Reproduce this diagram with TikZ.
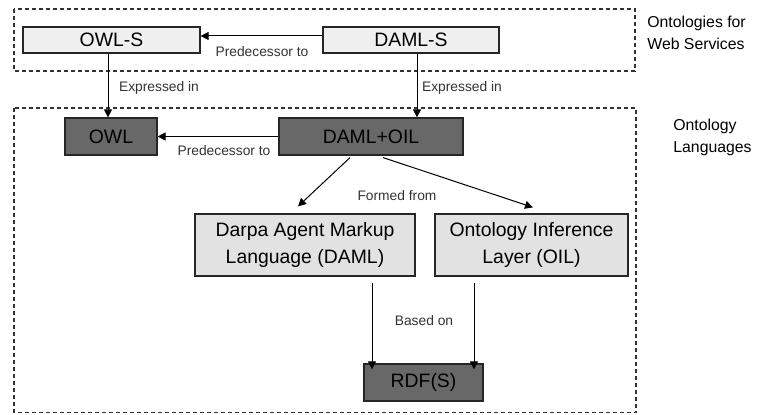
\documentclass[tikz,border=0pt]{standalone}
\usepackage{fontspec}
\setmainfont{Liberation Sans}
\usepackage{tikz}
\usetikzlibrary{arrows.meta}

\definecolor{boxlight}{HTML}{F0F0F0}
\definecolor{boxmid}{HTML}{E2E2E2}
\definecolor{boxdark}{HTML}{686868}

\begin{document}
\begin{tikzpicture}[x=0.5pt, y=-0.5pt,
    box/.style={draw=black!85, line width=0.6pt, inner sep=0pt, align=center,
      font=\fontsize{9.7}{13.5}\selectfont},
    lightbox/.style={box, fill=boxlight, minimum height=13pt},
    midbox/.style={box, fill=boxmid, minimum height=31pt},
    darkbox/.style={box, fill=boxdark, minimum height=18.5pt},
    lbl/.style={font=\fontsize{6.9}{8}\selectfont, text=black!80, inner sep=0pt},
    side/.style={font=\fontsize{7.9}{10.8}\selectfont, align=left, inner sep=0pt, anchor=north west},
    frame/.style={dashed, dash pattern=on 2pt off 1.5pt, line width=0.6pt, draw=black!80},
    arr/.style={line width=0.5pt, -{Triangle[length=4pt, width=4pt]}}]
      \useasboundingbox (0,0) rectangle (771,415);
      \def\topy{40}
      \def\midy{136.5}
      \def\lowy{245}
      % -------------------------------------------- frames
      \draw[frame] (14,9) rectangle (635,71);
      \draw[frame] (14,108) rectangle (636,412.5);
      \node[side] at (647,16) (web_services) {Ontologies for\\Web Services};
      \node[side] at (673,119) (languages) {Ontology\\Languages};
      % -------------------------------------------- set the nodes
      \node[lightbox, minimum width=88.5pt] at (111.5,\topy) (owl_s) {OWL-S};
      \node[lightbox, minimum width=88pt] at (411,\topy) (daml_s) {DAML-S};
      \node[darkbox, minimum width=46pt] at (111,\midy) (owl) {OWL};
      \node[darkbox, minimum width=92pt] at (371,\midy) (daml_oil) {DAML+OIL};
      \node[midbox, minimum width=110pt] at (305,\lowy) (daml) {Darpa Agent Markup\\Language (DAML)};
      \node[midbox, minimum width=96.5pt] at (531.5,\lowy) (oil) {Ontology Inference\\Layer (OIL)};
      \node[darkbox, minimum width=59.5pt] at (423.5,382.5) (rdfs) {RDF(S)};
      % -------------------------------------------- draw edges
      \draw[arr] ([yshift=2pt]daml_s.west) -- ([yshift=2pt]daml_s.west -| owl_s.east);
      \draw[arr] ([xshift=-1.75pt]owl_s.south) -- ([xshift=-1.75pt]owl_s.south |- owl.north);
      \draw[arr] ([xshift=3pt]daml_s.south) -- ([xshift=3pt]daml_s.south |- daml_oil.north);
      \draw[arr] (daml_oil.west) -- (owl.east);
      \draw[arr] ([xshift=-10.5pt, yshift=-1pt]daml_oil.south) -- ([xshift=-3.5pt, yshift=3.5pt]daml.north);
      \draw[arr] ([xshift=6pt, yshift=-1pt]daml_oil.south) -- ([xshift=0.75pt, yshift=3pt]oil.north);
      \draw[arr] ([xshift=33.5pt, yshift=-3pt]daml.south) -- ([xshift=33.5pt, yshift=-3pt]daml.south |- rdfs.north);
      \draw[arr] ([xshift=-28.75pt, yshift=-3pt]oil.south) -- ([xshift=-28.75pt, yshift=-3pt]oil.south |- rdfs.north);
      % -------------------------------------------- Names
      \node[lbl] at (262,52) (pred_top) {Predecessor to};
      \node[lbl] at (159,88) (expr_left) {Expressed in};
      \node[lbl] at (462,88) (expr_right) {Expressed in};
      \node[lbl] at (224,151) (pred_low) {Predecessor to};
      \node[lbl] at (397,196) (formed) {Formed from};
      \node[lbl] at (424,321) (based) {Based on};
\end{tikzpicture}
\end{document}
